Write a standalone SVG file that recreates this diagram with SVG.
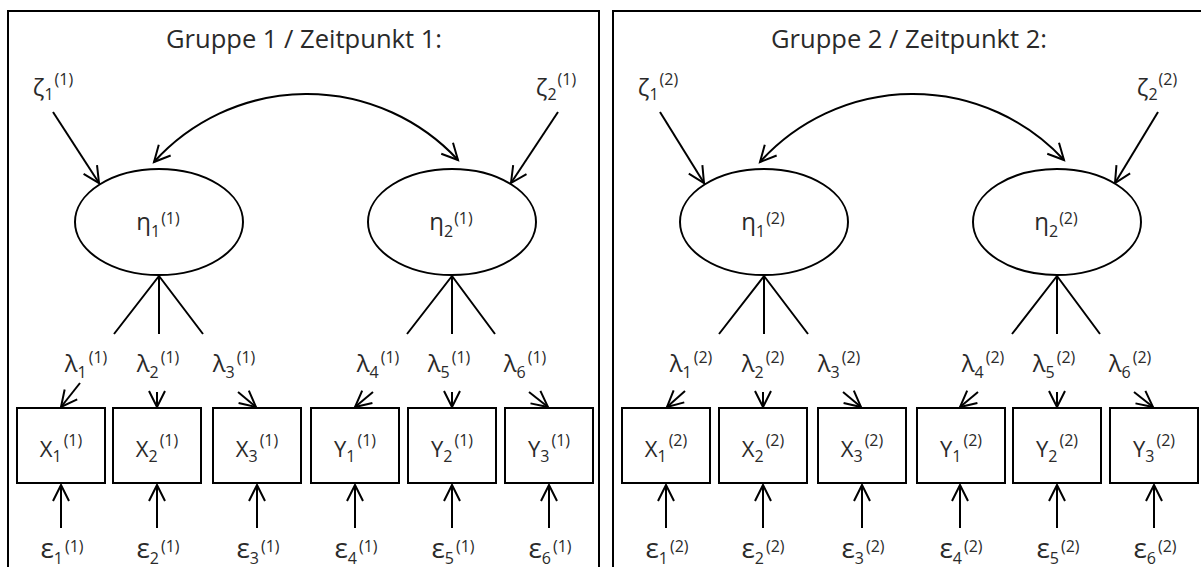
<svg xmlns="http://www.w3.org/2000/svg" width="1201" height="567" viewBox="0 0 1201 567">
<style>
.frame{fill:none;stroke:#000;stroke-width:2}
.node{fill:#fff;stroke:#000;stroke-width:2}
.ln{fill:none;stroke:#000;stroke-width:2}
.arr{fill:none;stroke:#000;stroke-width:2;marker-end:url(#ah)}
text{font-family:"Open Sans","Noto Sans","DejaVu Sans",sans-serif;fill:#2a2a2a;font-size:22px;text-anchor:middle}
.title{font-size:25px}
.g{font-size:24px}
.s{font-size:16px}
.e{font-size:28px}
</style>
<defs>
<marker id="ah" markerUnits="userSpaceOnUse" markerWidth="22" markerHeight="22" viewBox="-19 -11 22 22" refX="0" refY="0" orient="auto-start-reverse">
<path d="M-16,-8 L0,0 L-16,8" fill="none" stroke="#000" stroke-width="2"/>
</marker>
</defs>
<rect fill="#fff" width="1201" height="567"/>

<!-- ===== Panel 1 ===== -->
<g id="panel1">
<rect class="frame" x="8" y="11" width="591" height="580"/>
<text class="title" x="304" y="48" textLength="276" lengthAdjust="spacingAndGlyphs">Gruppe 1 / Zeitpunkt 1:</text>
<g id="p1-connectors">
<path class="arr" d="M53,112 L99,183"/>
<path class="arr" d="M558,112 L511,183"/>
<path class="ln" d="M154,162 A206,206 0 0 1 458,160" marker-start="url(#ah)" marker-end="url(#ah)"/>
<path class="ln" d="M159,276 L114,334 M159,276 L159,334 M159,276 L203,334"/>
<path class="ln" d="M452,276 L407,334 M452,276 L452,334 M452,276 L495,334"/>
<path class="arr" d="M80,383 L61,407"/>
<path class="arr" d="M157,392 L157,407"/>
<path class="arr" d="M238,392 L256,407"/>
<path class="arr" d="M373,392 L355,407"/>
<path class="arr" d="M452,392 L452,407"/>
<path class="arr" d="M529,392 L548,407"/>
<path class="arr" d="M61,528 L61,485"/>
<path class="arr" d="M157,528 L157,485"/>
<path class="arr" d="M257,528 L257,485"/>
<path class="arr" d="M355,528 L355,485"/>
<path class="arr" d="M452,528 L452,485"/>
<path class="arr" d="M549,528 L549,485"/>
</g>
<g id="p1-zeta1"><text x="53" y="96"><tspan class="g">ζ</tspan><tspan class="s" dy="4">1</tspan><tspan class="s" dy="-15" dx="1">(1)</tspan></text></g>
<g id="p1-zeta2"><text x="556" y="96"><tspan class="g">ζ</tspan><tspan class="s" dy="4">2</tspan><tspan class="s" dy="-15" dx="1">(1)</tspan></text></g>
<g id="p1-eta1"><ellipse class="node" cx="159" cy="222" rx="84" ry="53"/><text x="158" y="230"><tspan class="g">η</tspan><tspan class="s" dy="7">1</tspan><tspan class="s" dy="-13" dx="1">(1)</tspan></text></g>
<g id="p1-eta2"><ellipse class="node" cx="452" cy="222" rx="84" ry="53"/><text x="451" y="230"><tspan class="g">η</tspan><tspan class="s" dy="7">2</tspan><tspan class="s" dy="-13" dx="1">(1)</tspan></text></g>
<g id="p1-lam1"><text x="86" y="372"><tspan class="g">λ</tspan><tspan class="s" dy="6">1</tspan><tspan class="s" dy="-15" dx="2">(1)</tspan></text></g>
<g id="p1-lam2"><text x="158" y="372"><tspan class="g">λ</tspan><tspan class="s" dy="6">2</tspan><tspan class="s" dy="-15" dx="2">(1)</tspan></text></g>
<g id="p1-lam3"><text x="234" y="372"><tspan class="g">λ</tspan><tspan class="s" dy="6">3</tspan><tspan class="s" dy="-15" dx="2">(1)</tspan></text></g>
<g id="p1-lam4"><text x="378" y="372"><tspan class="g">λ</tspan><tspan class="s" dy="6">4</tspan><tspan class="s" dy="-15" dx="2">(1)</tspan></text></g>
<g id="p1-lam5"><text x="449" y="372"><tspan class="g">λ</tspan><tspan class="s" dy="6">5</tspan><tspan class="s" dy="-15" dx="2">(1)</tspan></text></g>
<g id="p1-lam6"><text x="525" y="372"><tspan class="g">λ</tspan><tspan class="s" dy="6">6</tspan><tspan class="s" dy="-15" dx="2">(1)</tspan></text></g>
<g id="p1-X1"><rect class="node" x="17" y="408" width="88" height="75"/><text x="61" y="457">X<tspan class="s" dy="5">1</tspan><tspan class="s" dy="-16" dx="2">(1)</tspan></text></g>
<g id="p1-X2"><rect class="node" x="113" y="408" width="88" height="75"/><text x="157" y="457">X<tspan class="s" dy="5">2</tspan><tspan class="s" dy="-16" dx="2">(1)</tspan></text></g>
<g id="p1-X3"><rect class="node" x="213" y="408" width="88" height="75"/><text x="257" y="457">X<tspan class="s" dy="5">3</tspan><tspan class="s" dy="-16" dx="2">(1)</tspan></text></g>
<g id="p1-Y1"><rect class="node" x="311" y="408" width="88" height="75"/><text x="355" y="457">Y<tspan class="s" dy="5">1</tspan><tspan class="s" dy="-16" dx="2">(1)</tspan></text></g>
<g id="p1-Y2"><rect class="node" x="408" y="408" width="88" height="75"/><text x="452" y="457">Y<tspan class="s" dy="5">2</tspan><tspan class="s" dy="-16" dx="2">(1)</tspan></text></g>
<g id="p1-Y3"><rect class="node" x="505" y="408" width="88" height="75"/><text x="549" y="457">Y<tspan class="s" dy="5">3</tspan><tspan class="s" dy="-16" dx="2">(1)</tspan></text></g>
<g id="p1-eps1"><text x="62" y="558"><tspan class="e">ε</tspan><tspan class="s" dy="6">1</tspan><tspan class="s" dy="-12" dx="2">(1)</tspan></text></g>
<g id="p1-eps2"><text x="158" y="558"><tspan class="e">ε</tspan><tspan class="s" dy="6">2</tspan><tspan class="s" dy="-12" dx="2">(1)</tspan></text></g>
<g id="p1-eps3"><text x="258" y="558"><tspan class="e">ε</tspan><tspan class="s" dy="6">3</tspan><tspan class="s" dy="-12" dx="2">(1)</tspan></text></g>
<g id="p1-eps4"><text x="356" y="558"><tspan class="e">ε</tspan><tspan class="s" dy="6">4</tspan><tspan class="s" dy="-12" dx="2">(1)</tspan></text></g>
<g id="p1-eps5"><text x="453" y="558"><tspan class="e">ε</tspan><tspan class="s" dy="6">5</tspan><tspan class="s" dy="-12" dx="2">(1)</tspan></text></g>
<g id="p1-eps6"><text x="550" y="558"><tspan class="e">ε</tspan><tspan class="s" dy="6">6</tspan><tspan class="s" dy="-12" dx="2">(1)</tspan></text></g>
</g>

<!-- ===== Panel 2 ===== -->
<g id="panel2" transform="translate(605,0)">
<rect class="frame" x="8" y="11" width="591" height="580"/>
<text class="title" x="304" y="48" textLength="276" lengthAdjust="spacingAndGlyphs">Gruppe 2 / Zeitpunkt 2:</text>
<g id="p2-connectors">
<path class="arr" d="M55,112 L99,183"/>
<path class="arr" d="M553,112 L510,183"/>
<path class="ln" d="M155,162 A206,206 0 0 1 459,160" marker-start="url(#ah)" marker-end="url(#ah)"/>
<path class="ln" d="M159,276 L114,334 M159,276 L159,334 M159,276 L203,334"/>
<path class="ln" d="M452,276 L407,334 M452,276 L452,334 M452,276 L495,334"/>
<path class="arr" d="M80,391 L62,407"/>
<path class="arr" d="M158,392 L158,407"/>
<path class="arr" d="M238,392 L256,407"/>
<path class="arr" d="M373,392 L355,407"/>
<path class="arr" d="M452,392 L452,407"/>
<path class="arr" d="M529,392 L548,407"/>
<path class="arr" d="M61,528 L61,485"/>
<path class="arr" d="M158,528 L158,485"/>
<path class="arr" d="M257,528 L257,485"/>
<path class="arr" d="M355,528 L355,485"/>
<path class="arr" d="M452,528 L452,485"/>
<path class="arr" d="M549,528 L549,485"/>
</g>
<g id="p2-zeta1"><text x="53" y="96"><tspan class="g">ζ</tspan><tspan class="s" dy="4">1</tspan><tspan class="s" dy="-15" dx="1">(2)</tspan></text></g>
<g id="p2-zeta2"><text x="552" y="96"><tspan class="g">ζ</tspan><tspan class="s" dy="4">2</tspan><tspan class="s" dy="-15" dx="1">(2)</tspan></text></g>
<g id="p2-eta1"><ellipse class="node" cx="159" cy="222" rx="84" ry="53"/><text x="158" y="230"><tspan class="g">η</tspan><tspan class="s" dy="7">1</tspan><tspan class="s" dy="-13" dx="1">(2)</tspan></text></g>
<g id="p2-eta2"><ellipse class="node" cx="452" cy="222" rx="84" ry="53"/><text x="451" y="230"><tspan class="g">η</tspan><tspan class="s" dy="7">2</tspan><tspan class="s" dy="-13" dx="1">(2)</tspan></text></g>
<g id="p2-lam1"><text x="86" y="372"><tspan class="g">λ</tspan><tspan class="s" dy="6">1</tspan><tspan class="s" dy="-15" dx="2">(2)</tspan></text></g>
<g id="p2-lam2"><text x="158" y="372"><tspan class="g">λ</tspan><tspan class="s" dy="6">2</tspan><tspan class="s" dy="-15" dx="2">(2)</tspan></text></g>
<g id="p2-lam3"><text x="234" y="372"><tspan class="g">λ</tspan><tspan class="s" dy="6">3</tspan><tspan class="s" dy="-15" dx="2">(2)</tspan></text></g>
<g id="p2-lam4"><text x="378" y="372"><tspan class="g">λ</tspan><tspan class="s" dy="6">4</tspan><tspan class="s" dy="-15" dx="2">(2)</tspan></text></g>
<g id="p2-lam5"><text x="449" y="372"><tspan class="g">λ</tspan><tspan class="s" dy="6">5</tspan><tspan class="s" dy="-15" dx="2">(2)</tspan></text></g>
<g id="p2-lam6"><text x="525" y="372"><tspan class="g">λ</tspan><tspan class="s" dy="6">6</tspan><tspan class="s" dy="-15" dx="2">(2)</tspan></text></g>
<g id="p2-X1"><rect class="node" x="17" y="408" width="88" height="75"/><text x="61" y="457">X<tspan class="s" dy="5">1</tspan><tspan class="s" dy="-16" dx="2">(2)</tspan></text></g>
<g id="p2-X2"><rect class="node" x="114" y="408" width="88" height="75"/><text x="158" y="457">X<tspan class="s" dy="5">2</tspan><tspan class="s" dy="-16" dx="2">(2)</tspan></text></g>
<g id="p2-X3"><rect class="node" x="213" y="408" width="88" height="75"/><text x="257" y="457">X<tspan class="s" dy="5">3</tspan><tspan class="s" dy="-16" dx="2">(2)</tspan></text></g>
<g id="p2-Y1"><rect class="node" x="312" y="408" width="88" height="75"/><text x="356" y="457">Y<tspan class="s" dy="5">1</tspan><tspan class="s" dy="-16" dx="2">(2)</tspan></text></g>
<g id="p2-Y2"><rect class="node" x="408" y="408" width="88" height="75"/><text x="452" y="457">Y<tspan class="s" dy="5">2</tspan><tspan class="s" dy="-16" dx="2">(2)</tspan></text></g>
<g id="p2-Y3"><rect class="node" x="505" y="408" width="88" height="75"/><text x="549" y="457">Y<tspan class="s" dy="5">3</tspan><tspan class="s" dy="-16" dx="2">(2)</tspan></text></g>
<g id="p2-eps1"><text x="62" y="558"><tspan class="e">ε</tspan><tspan class="s" dy="6">1</tspan><tspan class="s" dy="-12" dx="2">(2)</tspan></text></g>
<g id="p2-eps2"><text x="158" y="558"><tspan class="e">ε</tspan><tspan class="s" dy="6">2</tspan><tspan class="s" dy="-12" dx="2">(2)</tspan></text></g>
<g id="p2-eps3"><text x="258" y="558"><tspan class="e">ε</tspan><tspan class="s" dy="6">3</tspan><tspan class="s" dy="-12" dx="2">(2)</tspan></text></g>
<g id="p2-eps4"><text x="356" y="558"><tspan class="e">ε</tspan><tspan class="s" dy="6">4</tspan><tspan class="s" dy="-12" dx="2">(2)</tspan></text></g>
<g id="p2-eps5"><text x="453" y="558"><tspan class="e">ε</tspan><tspan class="s" dy="6">5</tspan><tspan class="s" dy="-12" dx="2">(2)</tspan></text></g>
<g id="p2-eps6"><text x="550" y="558"><tspan class="e">ε</tspan><tspan class="s" dy="6">6</tspan><tspan class="s" dy="-12" dx="2">(2)</tspan></text></g>
</g>
</svg>
